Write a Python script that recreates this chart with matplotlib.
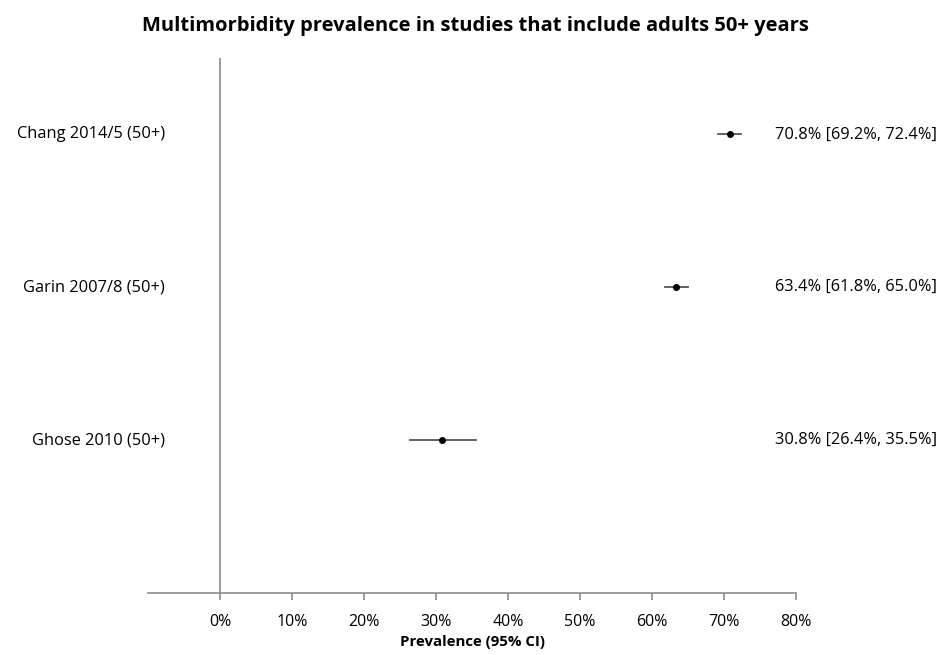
import matplotlib
matplotlib.use("Agg")
import matplotlib.pyplot as plt

studies = ["Chang 2014/5 (50+)", "Garin 2007/8 (50+)", "Ghose 2010 (50+)"]
prevalence = [70.8, 63.4, 30.8]
ci_low = [69.2, 61.8, 26.4]
ci_high = [72.4, 65.0, 35.5]
xticks = [0, 10, 20, 30, 40, 50, 60, 70, 80]
tick_labels = ["0%", "10%", "20%", "30%", "40%", "50%", "60%", "70%", "80%"]

plt.rcParams['font.family'] = ['Open Sans', 'DejaVu Sans']

fig = plt.figure(figsize=(9.5, 6.55), dpi=100)
ax = fig.add_axes([148/950, 62/655, (796-148)/950, (593-58)/655])

n = len(studies)
ypos = [n - i for i in range(n)]
grey = "#8c8c8c"

ax.axvline(0, color=grey, lw=1.2, zorder=1)
for y, p, lo, hi, name in zip(ypos, prevalence, ci_low, ci_high, studies):
    ax.plot([lo, hi], [y, y], color="#555555", lw=1.3, zorder=2)
    ax.plot([p], [y], "o", color="black", ms=4, zorder=3)
    ax.text((165-148)/648, y, name, transform=ax.get_yaxis_transform(), ha="right", va="center", fontsize=11.8)
    ax.text(1.0 + (775-796)/648, y, f"{p:.1f}% [{lo:.1f}%, {hi:.1f}%]",
            transform=ax.get_yaxis_transform(), ha="left", va="center", fontsize=11.8)

ax.set_xlim(-10, 80)
ax.set_ylim(0, n + 0.5)
ax.set_xticks(xticks)
ax.set_xticklabels(tick_labels, fontsize=11.5)
ax.set_yticks([])
for s in ["top", "right", "left"]:
    ax.spines[s].set_visible(False)
ax.spines["bottom"].set_color(grey)
ax.spines["bottom"].set_linewidth(1.2)
ax.tick_params(axis="x", color=grey, length=5, width=1.2, pad=10)
ax.set_xlabel("Prevalence (95% CI)", fontsize=10.8, fontweight="bold", labelpad=4)

fig.suptitle("Multimorbidity prevalence in studies that include adults 50+ years",
             x=0.5, y=0.975, fontsize=14.5, fontweight="bold")

fig.savefig("out.png", dpi=100)
